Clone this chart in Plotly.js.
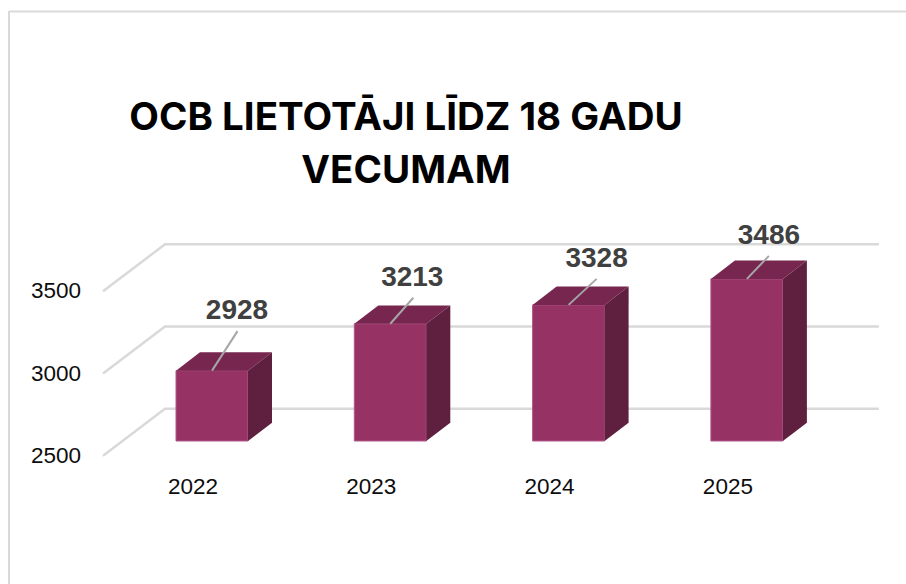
<!DOCTYPE html>
<html>
<head>
<meta charset="utf-8">
<script src="https://cdn.plot.ly/plotly-3.0.1.min.js"></script>
<style>html,body{margin:0;padding:0;background:#fff}#chart{width:906px;height:584px}</style>
</head>
<body>
<div id="chart"></div>
<script>
// Data
const years = [2022, 2023, 2024, 2025];
const users = [2928, 3213, 3328, 3486];
const yTicks = [2500, 3000, 3500];
const chartTitle = 'OCB LIETOTĀJI LĪDZ 18 GADU<br>VECUMAM';

// Chart scales: pixels per unit on each axis, and the pixel of a reference value
const W = 906, H = 584, mL = 90, mB = 116, mT = 200;
const pxPerYear = 178.3, pxPerUser = 0.1644;
const x0Px = 212, y0Px = 441, floorValue = 2500;
const xRange = [2022 - (x0Px - mL) / pxPerYear, 2022 + (W - x0Px) / pxPerYear];
const yRange = [floorValue - (H - mB - y0Px) / pxPerUser, floorValue + (y0Px - mT) / pxPerUser];
const dX = px => px / pxPerYear, dY = px => px / pxPerUser;

// 3D look
const barW = dX(72), depthX = dX(24), depthY = dY(18.3);
const FRONT = '#963264', TOP = '#77264f', SIDE = '#5f1f3f', GRID = '#d9d9d9', EDGE = '#b0588a';

// Leader lines and value labels, offset in pixels from the top centre of the front face
const leaderDx = [25.5, 23, 28, 22], leaderDy = [-39.5, -26, -26, -23];
const labelDx = [25, 22, 28, 22], labelDy = [-58.5, -45, -45, -42];

const traces = [];
traces.push({
  type: 'bar', x: years, y: users.map(v => v - floorValue), base: floorValue, width: barW,
  marker: {color: FRONT, line: {color: EDGE, width: 1}}, showlegend: false, hoverinfo: 'skip'
});
years.forEach((yr, i) => {
  const l = yr - barW / 2, r = yr + barW / 2, t = users[i], b = floorValue;
  traces.push({type: 'scatter', mode: 'lines', fill: 'toself', fillcolor: TOP, line: {width: 0, color: TOP},
    x: [l, r, r + depthX, l + depthX, l], y: [t, t, t + depthY, t + depthY, t], showlegend: false, hoverinfo: 'skip'});
  traces.push({type: 'scatter', mode: 'lines', fill: 'toself', fillcolor: SIDE, line: {width: 0, color: SIDE},
    x: [r, r + depthX, r + depthX, r, r], y: [t, t + depthY, b + depthY, b, t], showlegend: false, hoverinfo: 'skip'});
  traces.push({type: 'scatter', mode: 'lines', line: {color: '#a6a6a6', width: 2},
    x: [yr, yr + dX(leaderDx[i])], y: [t, t - dY(leaderDy[i])], showlegend: false, hoverinfo: 'skip'});
});
traces.push({
  type: 'scatter', mode: 'text', x: years.map((yr, i) => yr + dX(labelDx[i])),
  y: users.map((v, i) => v - dY(labelDy[i])), text: users.map(String), textposition: 'middle center',
  textfont: {family: '"Liberation Sans", Arial, sans-serif', size: 28, color: '#404040', weight: 700},
  showlegend: false, hoverinfo: 'skip', cliponaxis: false
});

// Perspective gridlines: front-left floor point, back-left corner, back-right end
const gridShapes = yTicks.map(v => ({
  type: 'path', layer: 'below', xref: 'x', yref: 'y',
  path: 'M' + (2022 - dX(109)) + ',' + (v - dY(14.7)) + ' L' + (2022 - dX(47)) + ',' + (v + dY(32.3)) +
        ' L' + (2025 + dX(132)) + ',' + (v + dY(32.3)),
  line: {color: GRID, width: 2.5}
}));
const px2paperX = px => (px - mL) / (W - mL), py2paperY = py => (H - mB - py) / (H - mB - mT);
const frameShapes = [
  {type: 'line', xref: 'paper', yref: 'paper', x0: px2paperX(9), x1: px2paperX(9), y0: py2paperY(11), y1: py2paperY(584), line: {color: GRID, width: 2}},
  {type: 'line', xref: 'paper', yref: 'paper', x0: px2paperX(9), x1: px2paperX(906), y0: py2paperY(11.5), y1: py2paperY(11.5), line: {color: GRID, width: 2}}
];

const tickFont = {family: '"Liberation Sans", Arial, sans-serif', size: 22.5, color: '#0d0d0d'};
const layout = {
  width: W, height: H, margin: {l: mL, r: 0, t: mT, b: mB, pad: 0},
  paper_bgcolor: '#ffffff', plot_bgcolor: 'rgba(0,0,0,0)', showlegend: false, hovermode: false,
  title: {text: chartTitle, x: 406 / W, xanchor: 'center', y: 1 - 129.5 / H, yanchor: 'middle',
    font: {family: 'Inter, "Noto Sans", sans-serif', size: 38.5, color: '#000000', weight: 700}},
  xaxis: {type: 'linear', range: xRange, tickmode: 'array', tickvals: years, ticktext: years.map(String),
    showgrid: false, zeroline: false, showline: false, ticks: '', tickfont: tickFont,
    ticklabelshift: -19, ticklabelstandoff: 2, fixedrange: true},
  yaxis: {type: 'linear', range: yRange, tickmode: 'array', tickvals: yTicks, ticktext: yTicks.map(String),
    showgrid: false, zeroline: false, showline: false, ticks: '', tickfont: tickFont,
    ticklabelshift: 14, ticklabelstandoff: 8, fixedrange: true},
  shapes: gridShapes.concat(frameShapes)
};
Plotly.newPlot('chart', traces, layout, {displayModeBar: false, staticPlot: true}).then(() => {
  // The reference title has a slightly larger line gap than Plotly's fixed 1.3em
  const lines = document.querySelectorAll('.gtitle tspan.line');
  if (lines.length > 1) lines[1].setAttribute('dy', '53px');
});
</script>
</body>
</html>
